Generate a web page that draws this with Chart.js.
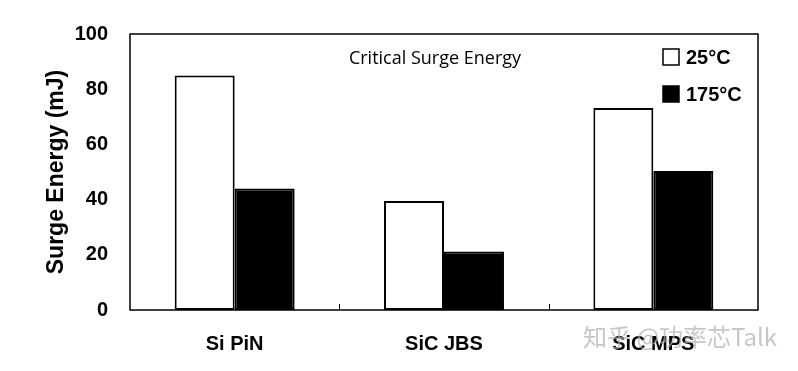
<!DOCTYPE html>
<html>
<head>
<meta charset="utf-8">
<script src="https://cdn.jsdelivr.net/npm/chart.js@4/dist/chart.umd.min.js"></script>
<style>
  html, body { margin: 0; padding: 0; background: #fff; }
  #wrap { width: 798px; height: 371px; }
</style>
</head>
<body>
<div id="wrap"><canvas id="myChart" width="798" height="371"></canvas></div>
<script>
// chart data
const categories = ["Si PiN", "SiC JBS", "SiC MPS"];
const energy25 = [85, 39.5, 73.2];
const energy175 = [44, 21.2, 50.4];
const seriesLabels = ["25°C", "175°C"];
const yTicks = [0, 20, 40, 60, 80, 100];

const boldFont = "Liberation Sans, Arial, sans-serif";

// box around plot, inner x ticks, legend, caption, watermark
const decorations = {
  id: 'decorations',
  afterDatasetsDraw(chart) {
    const ctx = chart.ctx;
    const a = chart.chartArea;
    const x = chart.scales.x;
    ctx.save();
    ctx.strokeStyle = '#000';
    ctx.lineWidth = 1.5;
    ctx.strokeRect(a.left, a.top, a.right - a.left, a.bottom - a.top);

    // tick marks between categories, pointing up
    const step = (a.right - a.left) / categories.length;
    ctx.lineWidth = 1;
    for (let i = 1; i < categories.length; i++) {
      const px = Math.round(x.getPixelForValue(i) - step / 2) + 0.5;
      ctx.beginPath();
      ctx.moveTo(px, a.bottom);
      ctx.lineTo(px, a.bottom - 6);
      ctx.stroke();
    }

    // caption
    ctx.fillStyle = '#000';
    ctx.font = '18px "Open Sans", Carlito, sans-serif';
    ctx.textAlign = 'center';
    ctx.textBaseline = 'middle';
    ctx.fillText('Critical Surge Energy', 435, 59);

    // legend
    ctx.font = 'bold 20px ' + boldFont;
    ctx.textAlign = 'left';
    const fills = ['#fff', '#000'];
    for (let i = 0; i < seriesLabels.length; i++) {
      const ly = 57 + i * 37;
      ctx.fillStyle = fills[i];
      ctx.fillRect(663, ly - 8, 16, 16);
      ctx.lineWidth = 1.5;
      ctx.strokeStyle = '#000';
      ctx.strokeRect(663, ly - 8, 16, 16);
      ctx.fillStyle = '#000';
      ctx.fillText(seriesLabels[i], 686, ly + 1);
    }
    ctx.restore();
  },
  afterDraw(chart) {
    const ctx = chart.ctx;
    ctx.save();
    ctx.fillStyle = 'rgba(175,175,175,0.7)';
    ctx.font = '24px "Noto Sans CJK SC", sans-serif';
    ctx.textAlign = 'left';
    ctx.textBaseline = 'middle';
    ctx.fillText('知乎 @功率芯Talk', 583, 337);
    ctx.restore();
  }
};

const config = {
  type: 'bar',
  data: {
    labels: categories,
    datasets: [
      {
        label: seriesLabels[0],
        data: energy25,
        backgroundColor: '#fff',
        borderColor: '#000',
        borderWidth: 2,
        borderSkipped: false
      },
      {
        label: seriesLabels[1],
        data: energy175,
        backgroundColor: '#000',
        borderColor: '#000',
        borderWidth: 2,
        borderSkipped: false
      }
    ]
  },
  options: {
    responsive: false,
    animation: false,
    devicePixelRatio: 1,
    layout: { padding: { left: 43, right: 40, top: 34, bottom: 0 } },
    datasets: { bar: { categoryPercentage: 0.573, barPercentage: 1.0 } },
    plugins: { legend: { display: false }, tooltip: { enabled: false } },
    scales: {
      x: {
        grid: { display: false },
        border: { display: false },
        ticks: { color: '#000', font: { family: boldFont, size: 20, weight: 'bold' }, padding: 14 },
        afterFit(scale) { scale.height = 61; }
      },
      y: {
        min: 0,
        max: 100,
        afterBuildTicks(scale) { scale.ticks = yTicks.map(v => ({ value: v })); },
        grid: { display: false },
        border: { display: false },
        ticks: { color: '#000', font: { family: boldFont, size: 20, weight: 'bold' }, padding: 14 },
        title: {
          display: true,
          text: 'Surge Energy (mJ)',
          color: '#000',
          font: { family: boldFont, size: 23, weight: 'bold' },
          padding: { top: 0, bottom: 0 }
        },
        afterFit(scale) { scale.width = 87; }
      }
    }
  },
  plugins: [decorations]
};

const myChart = new Chart(document.getElementById('myChart'), config);
</script>
</body>
</html>
